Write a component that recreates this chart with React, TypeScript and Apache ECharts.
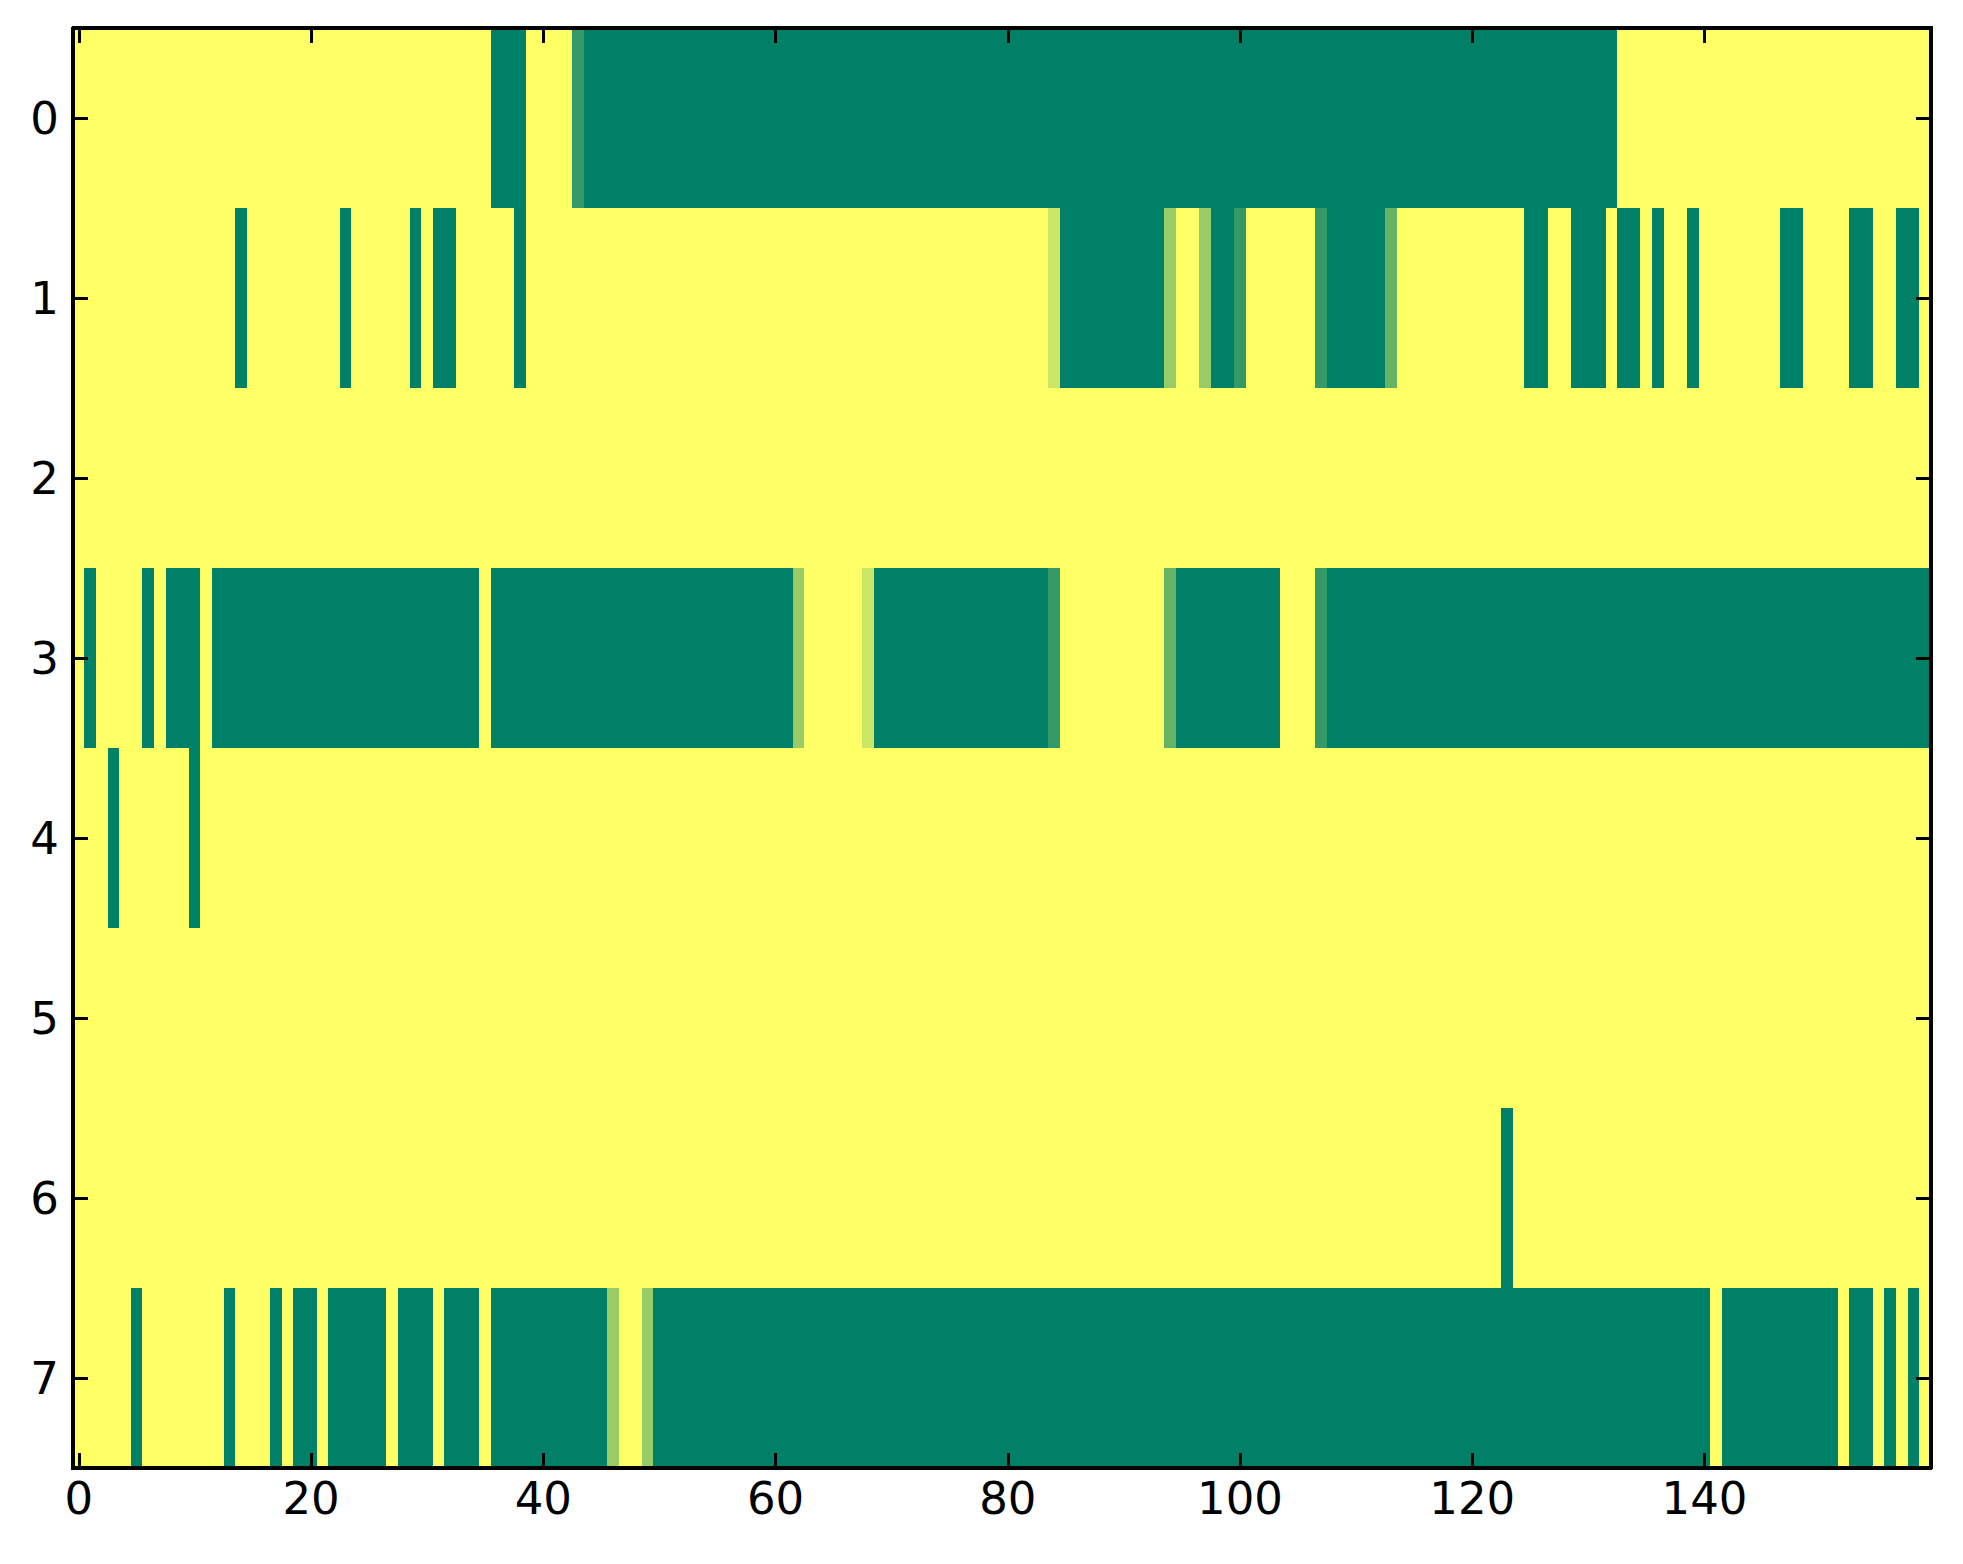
import React, { useEffect, useRef } from "react";
import * as echarts from "echarts";

// x categories (column index) and y categories (row index)
const xCategories: string[] = Array.from({ length: 160 }, (_, i) => String(i));
const yCategories: string[] = ["0", "1", "2", "3", "4", "5", "6", "7"];
const xTickLabels: number[] = [0, 20, 40, 60, 80, 100, 120, 140];

// cell values per row (0 = green, 1 = yellow), 160 columns each
const row0: number[] = [
  1, 1, 1, 1, 1, 1, 1, 1, 1, 1,
  1, 1, 1, 1, 1, 1, 1, 1, 1, 1,
  1, 1, 1, 1, 1, 1, 1, 1, 1, 1,
  1, 1, 1, 1, 1, 1, 0, 0, 0, 1,
  1, 1, 1, 0.2, 0, 0, 0, 0, 0, 0,
  0, 0, 0, 0, 0, 0, 0, 0, 0, 0,
  0, 0, 0, 0, 0, 0, 0, 0, 0, 0,
  0, 0, 0, 0, 0, 0, 0, 0, 0, 0,
  0, 0, 0, 0, 0, 0, 0, 0, 0, 0,
  0, 0, 0, 0, 0, 0, 0, 0, 0, 0,
  0, 0, 0, 0, 0, 0, 0, 0, 0, 0,
  0, 0, 0, 0, 0, 0, 0, 0, 0, 0,
  0, 0, 0, 0, 0, 0, 0, 0, 0, 0,
  0, 0, 0, 1, 1, 1, 1, 1, 1, 1,
  1, 1, 1, 1, 1, 1, 1, 1, 1, 1,
  1, 1, 1, 1, 1, 1, 1, 1, 1, 1,
];
const row1: number[] = [
  1, 1, 1, 1, 1, 1, 1, 1, 1, 1,
  1, 1, 1, 1, 0, 1, 1, 1, 1, 1,
  1, 1, 1, 0, 1, 1, 1, 1, 1, 0,
  1, 0, 0, 1, 1, 1, 1, 1, 0, 1,
  1, 1, 1, 1, 1, 1, 1, 1, 1, 1,
  1, 1, 1, 1, 1, 1, 1, 1, 1, 1,
  1, 1, 1, 1, 1, 1, 1, 1, 1, 1,
  1, 1, 1, 1, 1, 1, 1, 1, 1, 1,
  1, 1, 1, 1, 0.8, 0, 0, 0, 0, 0,
  0, 0, 0, 0, 0.6, 1, 1, 0.6, 0, 0,
  0.2, 1, 1, 1, 1, 1, 1, 0.2, 0, 0,
  0, 0, 0, 0.4, 1, 1, 1, 1, 1, 1,
  1, 1, 1, 1, 1, 0, 0, 1, 1, 0,
  0, 0, 1, 0, 0, 1, 0, 1, 1, 0,
  1, 1, 1, 1, 1, 1, 1, 0, 0, 1,
  1, 1, 1, 0, 0, 1, 1, 0, 0, 1,
];
const row2: number[] = [
  1, 1, 1, 1, 1, 1, 1, 1, 1, 1,
  1, 1, 1, 1, 1, 1, 1, 1, 1, 1,
  1, 1, 1, 1, 1, 1, 1, 1, 1, 1,
  1, 1, 1, 1, 1, 1, 1, 1, 1, 1,
  1, 1, 1, 1, 1, 1, 1, 1, 1, 1,
  1, 1, 1, 1, 1, 1, 1, 1, 1, 1,
  1, 1, 1, 1, 1, 1, 1, 1, 1, 1,
  1, 1, 1, 1, 1, 1, 1, 1, 1, 1,
  1, 1, 1, 1, 1, 1, 1, 1, 1, 1,
  1, 1, 1, 1, 1, 1, 1, 1, 1, 1,
  1, 1, 1, 1, 1, 1, 1, 1, 1, 1,
  1, 1, 1, 1, 1, 1, 1, 1, 1, 1,
  1, 1, 1, 1, 1, 1, 1, 1, 1, 1,
  1, 1, 1, 1, 1, 1, 1, 1, 1, 1,
  1, 1, 1, 1, 1, 1, 1, 1, 1, 1,
  1, 1, 1, 1, 1, 1, 1, 1, 1, 1,
];
const row3: number[] = [
  1, 0, 1, 1, 1, 1, 0, 1, 0, 0,
  0, 1, 0, 0, 0, 0, 0, 0, 0, 0,
  0, 0, 0, 0, 0, 0, 0, 0, 0, 0,
  0, 0, 0, 0, 0, 1, 0, 0, 0, 0,
  0, 0, 0, 0, 0, 0, 0, 0, 0, 0,
  0, 0, 0, 0, 0, 0, 0, 0, 0, 0,
  0, 0, 0.6, 1, 1, 1, 1, 1, 0.8, 0,
  0, 0, 0, 0, 0, 0, 0, 0, 0, 0,
  0, 0, 0, 0, 0.2, 1, 1, 1, 1, 1,
  1, 1, 1, 1, 0.4, 0, 0, 0, 0, 0,
  0, 0, 0, 0, 1, 1, 1, 0.2, 0, 0,
  0, 0, 0, 0, 0, 0, 0, 0, 0, 0,
  0, 0, 0, 0, 0, 0, 0, 0, 0, 0,
  0, 0, 0, 0, 0, 0, 0, 0, 0, 0,
  0, 0, 0, 0, 0, 0, 0, 0, 0, 0,
  0, 0, 0, 0, 0, 0, 0, 0, 0, 0,
];
const row4: number[] = [
  1, 1, 1, 0, 1, 1, 1, 1, 1, 1,
  0, 1, 1, 1, 1, 1, 1, 1, 1, 1,
  1, 1, 1, 1, 1, 1, 1, 1, 1, 1,
  1, 1, 1, 1, 1, 1, 1, 1, 1, 1,
  1, 1, 1, 1, 1, 1, 1, 1, 1, 1,
  1, 1, 1, 1, 1, 1, 1, 1, 1, 1,
  1, 1, 1, 1, 1, 1, 1, 1, 1, 1,
  1, 1, 1, 1, 1, 1, 1, 1, 1, 1,
  1, 1, 1, 1, 1, 1, 1, 1, 1, 1,
  1, 1, 1, 1, 1, 1, 1, 1, 1, 1,
  1, 1, 1, 1, 1, 1, 1, 1, 1, 1,
  1, 1, 1, 1, 1, 1, 1, 1, 1, 1,
  1, 1, 1, 1, 1, 1, 1, 1, 1, 1,
  1, 1, 1, 1, 1, 1, 1, 1, 1, 1,
  1, 1, 1, 1, 1, 1, 1, 1, 1, 1,
  1, 1, 1, 1, 1, 1, 1, 1, 1, 1,
];
const row5: number[] = [
  1, 1, 1, 1, 1, 1, 1, 1, 1, 1,
  1, 1, 1, 1, 1, 1, 1, 1, 1, 1,
  1, 1, 1, 1, 1, 1, 1, 1, 1, 1,
  1, 1, 1, 1, 1, 1, 1, 1, 1, 1,
  1, 1, 1, 1, 1, 1, 1, 1, 1, 1,
  1, 1, 1, 1, 1, 1, 1, 1, 1, 1,
  1, 1, 1, 1, 1, 1, 1, 1, 1, 1,
  1, 1, 1, 1, 1, 1, 1, 1, 1, 1,
  1, 1, 1, 1, 1, 1, 1, 1, 1, 1,
  1, 1, 1, 1, 1, 1, 1, 1, 1, 1,
  1, 1, 1, 1, 1, 1, 1, 1, 1, 1,
  1, 1, 1, 1, 1, 1, 1, 1, 1, 1,
  1, 1, 1, 1, 1, 1, 1, 1, 1, 1,
  1, 1, 1, 1, 1, 1, 1, 1, 1, 1,
  1, 1, 1, 1, 1, 1, 1, 1, 1, 1,
  1, 1, 1, 1, 1, 1, 1, 1, 1, 1,
];
const row6: number[] = [
  1, 1, 1, 1, 1, 1, 1, 1, 1, 1,
  1, 1, 1, 1, 1, 1, 1, 1, 1, 1,
  1, 1, 1, 1, 1, 1, 1, 1, 1, 1,
  1, 1, 1, 1, 1, 1, 1, 1, 1, 1,
  1, 1, 1, 1, 1, 1, 1, 1, 1, 1,
  1, 1, 1, 1, 1, 1, 1, 1, 1, 1,
  1, 1, 1, 1, 1, 1, 1, 1, 1, 1,
  1, 1, 1, 1, 1, 1, 1, 1, 1, 1,
  1, 1, 1, 1, 1, 1, 1, 1, 1, 1,
  1, 1, 1, 1, 1, 1, 1, 1, 1, 1,
  1, 1, 1, 1, 1, 1, 1, 1, 1, 1,
  1, 1, 1, 1, 1, 1, 1, 1, 1, 1,
  1, 1, 1, 0, 1, 1, 1, 1, 1, 1,
  1, 1, 1, 1, 1, 1, 1, 1, 1, 1,
  1, 1, 1, 1, 1, 1, 1, 1, 1, 1,
  1, 1, 1, 1, 1, 1, 1, 1, 1, 1,
];
const row7: number[] = [
  1, 1, 1, 1, 1, 0, 1, 1, 1, 1,
  1, 1, 1, 0, 1, 1, 1, 0, 1, 0,
  0, 1, 0, 0, 0, 0, 0, 1, 0, 0,
  0, 1, 0, 0, 0, 1, 0, 0, 0, 0,
  0, 0, 0, 0, 0, 0, 0.6, 1, 1, 0.6,
  0, 0, 0, 0, 0, 0, 0, 0, 0, 0,
  0, 0, 0, 0, 0, 0, 0, 0, 0, 0,
  0, 0, 0, 0, 0, 0, 0, 0, 0, 0,
  0, 0, 0, 0, 0, 0, 0, 0, 0, 0,
  0, 0, 0, 0, 0, 0, 0, 0, 0, 0,
  0, 0, 0, 0, 0, 0, 0, 0, 0, 0,
  0, 0, 0, 0, 0, 0, 0, 0, 0, 0,
  0, 0, 0, 0, 0, 0, 0, 0, 0, 0,
  0, 0, 0, 0, 0, 0, 0, 0, 0, 0,
  0, 1, 0, 0, 0, 0, 0, 0, 0, 0,
  0, 0, 1, 0, 0, 1, 0, 1, 0, 1,
];

const rows: number[][] = [row0, row1, row2, row3, row4, row5, row6, row7];

const FONT = "DejaVu Sans";
const tickIdx = (i: number) => xTickLabels.indexOf(i) >= 0;

export default function App() {
  const ref = useRef<HTMLDivElement>(null);

  useEffect(() => {
    document.body.style.margin = "0";
    if (!ref.current) return;
    const chart = echarts.init(ref.current, undefined, { renderer: "svg" });

    const data: [number, number, number][] = [];
    rows.forEach((r, y) => r.forEach((v, x) => data.push([x, y, v])));

    const axisLine = { show: true, lineStyle: { color: "#000", width: 4 } };
    const tickStyle = { color: "#000", width: 2.5 };
    const labelBase = { color: "#000", fontSize: 45, fontFamily: FONT };

    chart.setOption({
      animation: false,
      backgroundColor: "#ffffff",
      grid: { left: 73, right: 32, top: 28, bottom: 96, containLabel: false },
      visualMap: {
        show: false,
        type: "continuous",
        min: 0,
        max: 1,
        dimension: 2,
        seriesIndex: 0,
        inRange: { color: ["#008066", "#ffff66"] },
      },
      xAxis: [
        {
          type: "category",
          data: xCategories,
          position: "bottom",
          z: 10,
          axisLine,
          axisTick: { show: true, inside: true, length: 15, alignWithLabel: true, interval: (i: number) => tickIdx(i), lineStyle: tickStyle },
          axisLabel: { ...labelBase, margin: 8, interval: (i: number) => tickIdx(i) },
          splitLine: { show: false },
        },
        {
          type: "category",
          data: xCategories,
          position: "top",
          z: 10,
          axisLine,
          axisTick: { show: true, inside: true, length: 15, alignWithLabel: true, interval: (i: number) => tickIdx(i), lineStyle: tickStyle },
          axisLabel: { show: false },
          splitLine: { show: false },
        },
      ],
      yAxis: [
        {
          type: "category",
          data: yCategories,
          inverse: true,
          position: "left",
          z: 10,
          axisLine,
          axisTick: { show: true, inside: true, length: 15, alignWithLabel: true, interval: 0, lineStyle: tickStyle },
          axisLabel: { ...labelBase, margin: 14, interval: 0 },
          splitLine: { show: false },
        },
        {
          type: "category",
          data: yCategories,
          inverse: true,
          position: "right",
          z: 10,
          axisLine,
          axisTick: { show: true, inside: true, length: 15, alignWithLabel: true, interval: 0, lineStyle: tickStyle },
          axisLabel: { show: false },
          splitLine: { show: false },
        },
      ],
      series: [
        {
          type: "heatmap",
          xAxisIndex: 0,
          yAxisIndex: 0,
          data,
          itemStyle: { borderWidth: 0 },
          emphasis: { disabled: true },
        },
      ],
    });

    const svg = ref.current.querySelector("svg");
    if (svg) svg.setAttribute("shape-rendering", "crispEdges");

    return () => chart.dispose();
  }, []);

  return <div ref={ref} style={{ width: 1963, height: 1564 }} />;
}
